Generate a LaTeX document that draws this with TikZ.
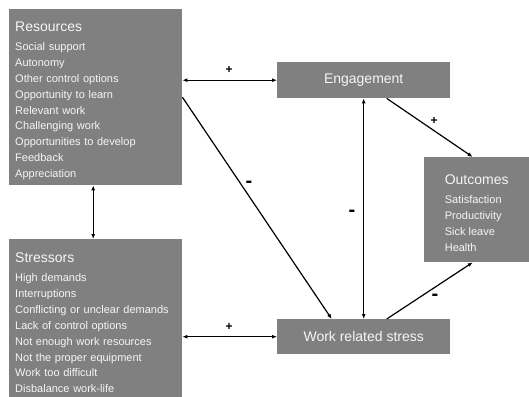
\documentclass[tikz,border=0pt]{standalone}
\usepackage{fontspec}
\setmainfont{Liberation Sans}
\usepackage{tikz}
\usetikzlibrary{arrows.meta}
\newcommand{\boxhead}[1]{{\fontsize{14}{16}\selectfont\rule{0pt}{17pt}#1}}

\begin{document}
\begin{tikzpicture}[x=1pt,y=-1pt,>={Latex[length=5pt,width=4pt]},
  box/.style={fill=gray,text=white!93!gray,inner sep=0pt,font=\fontsize{11}{15.9}\selectfont},
  wide/.style={anchor=north west,minimum width=173pt,text width=161pt,inner xsep=6pt,align=left},
  link/.style={line width=1.2pt},
  plus/.style={font=\bfseries\fontsize{12}{12}\selectfont},
  minus/.style={font=\bfseries\fontsize{20}{20}\selectfont}]
\useasboundingbox (0,0) rectangle (529,396);
\node[box,wide,minimum height=176pt] (res) at (9,9) {\boxhead{Resources}\\[3.1pt]
  Social support\\ Autonomy\\ Other control options\\ Opportunity to learn\\ Relevant work\\
  Challenging work\\ Opportunities to develop\\ Feedback\\ Appreciation};
\node[box,wide,minimum height=160pt] (str) at (9,239) {\boxhead{Stressors}\\[3.1pt]
  High demands\\ Interruptions\\ Conflicting or unclear demands\\ Lack of control options\\
  Not enough work resources\\ Not the proper equipment\\ Work too difficult\\ Disbalance work-life};
\node[box,anchor=north west,minimum width=173pt,minimum height=36pt,font=\fontsize{14}{16}\selectfont] (eng) at (277,62) {Engagement};
\node[box,anchor=north west,minimum width=173pt,minimum height=35pt,font=\fontsize{14}{16}\selectfont] (wrs) at (277,319) {Work related stress};
\node[box,anchor=north west,minimum width=105pt,minimum height=105pt,align=left] (out) at (424,157) {\boxhead{Outcomes}\\[3.1pt]
  Satisfaction\\ Productivity\\ Sick leave\\ Health};
\draw[link,<->] (res.east |- eng.west) -- (eng.west);
\draw[link,<->] (str.east |- wrs.west) -- (wrs.west);
\draw[link,<->] ([xshift=-2.5pt]res.south) -- ([xshift=-2.5pt]str.north);
\draw[link,->] (res.east) -- ([xshift=-32pt]wrs.north);
\draw[link,<->] (eng.south) -- (wrs.north);
\draw[link,->] ([xshift=23pt]eng.south) -- ([xshift=-4pt]out.north);
\draw[link,->] ([xshift=23pt]wrs.north) -- ([xshift=-4pt]out.south);
\node[plus] (p1) at (229,70) {+};
\node[plus] (p2) at (229,327) {+};
\node[plus] (p3) at (434,121) {+};
\node[minus] (m1) at (249,184) {-};
\node[minus] (m2) at (352,213) {-};
\node[minus] (m3) at (435,297) {-};
\end{tikzpicture}
\end{document}
